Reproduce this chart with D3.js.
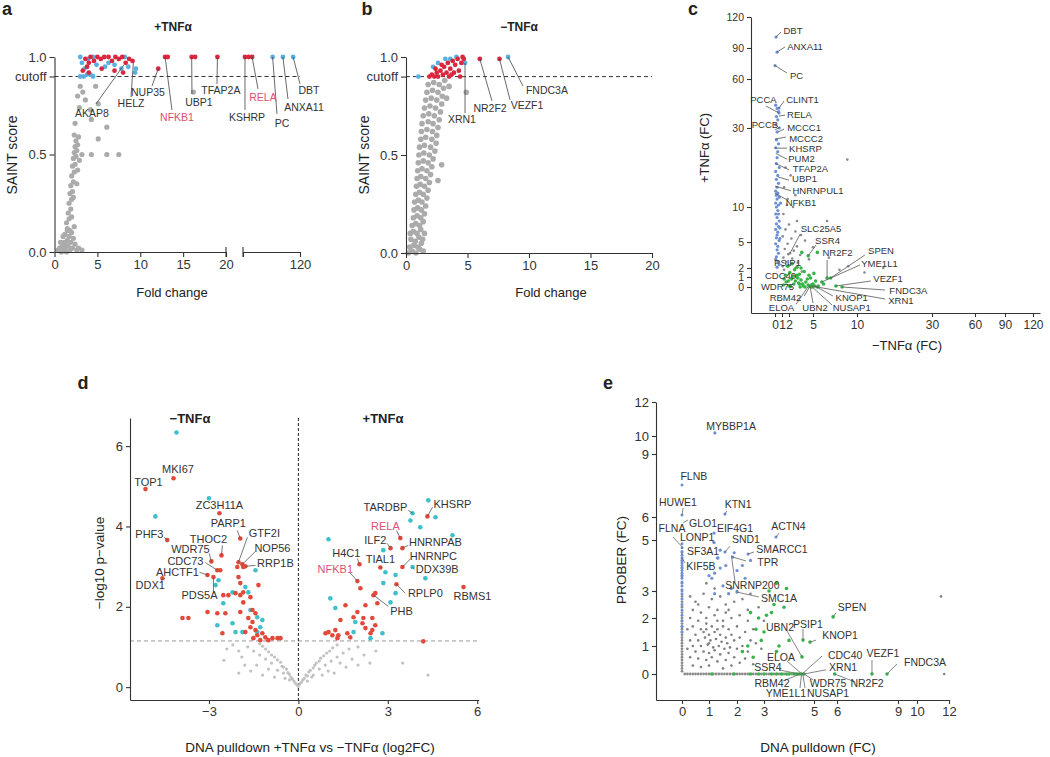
<!DOCTYPE html>
<html>
<head>
<meta charset="utf-8">
<script src="https://cdn.jsdelivr.net/npm/d3@7"></script>
<style>
body { margin: 0; background: #fff; }
svg { font-family: "Liberation Sans", Arial, Helvetica, sans-serif; }
</style>
</head>
<body>
<svg id="fig" width="1050" height="757"></svg>
<script>
// ---------- panel a : +TNFa SAINT score vs fold change ----------
let aGray = [[0.4,0.01],[0.6,0.02],[0.8,0.0],[0.9,0.03],[1.0,0.01],[1.1,0.05],[1.2,0.02],[1.3,0.04],[1.4,0.0],
  [1.5,0.06],[1.6,0.03],[1.7,0.08],[1.8,0.01],[1.9,0.05],[2.0,0.1],[2.1,0.02],[2.2,0.07],[2.4,0.04],[2.6,0.01],
  [0.7,0.05],[1.2,0.09],[1.5,0.12],[1.0,0.08],[1.8,0.11],[2.3,0.13],[2.8,0.02],[3.2,0.01],
  [1.4,0.15],[1.7,0.17],[1.6,0.2],[1.9,0.22],[1.7,0.25],[2.0,0.27],[1.8,0.3],[2.1,0.31],[1.9,0.34],[2.2,0.36],
  [2.0,0.39],[2.3,0.41],[2.1,0.44],[2.4,0.45],[2.2,0.48],[2.5,0.49],[2.3,0.51],[2.6,0.52],[2.4,0.54],[2.7,0.55],
  [2.5,0.57],[2.8,0.59],[2.2,0.28],[2.6,0.35],[2.0,0.18],[1.5,0.11],[2.7,0.42],[2.9,0.47],[2.3,0.6],
  [3.2,0.5],[4.3,0.5],[6.1,0.5],[7.5,0.5],[5.1,0.58],[6.1,0.64],[4.3,0.68],[4.2,0.73],[5.1,0.76],[3.3,0.82],
  [2.7,0.8],[3.0,0.85],[2.9,0.74],[3.6,0.78],[2.4,0.66],[4.8,0.85],[16.2,0.82]];
let aRed = [[3.3,0.93],[3.6,0.99],[4.0,0.97],[4.2,1.0],[4.6,0.98],[5.0,1.0],[5.4,0.99],[5.8,1.0],[6.3,1.0],
  [6.7,0.98],[7.1,1.0],[7.5,0.99],[7.9,1.0],[8.3,0.97],[8.7,0.99],[9.1,0.98],[4.0,0.92],[7.0,0.93],[8.0,0.92],
  [12.1,0.94],[12.9,1.0],[13.2,1.0],[16.0,1.0],[16.4,1.0],[19.0,1.0],[3.8,0.95],[5.5,0.94],
  [23.5,1.0],[30,1.0],[36,1.0]];
let aBlue = [[3.0,1.0],[3.2,0.97],[3.5,0.94],[3.8,0.91],[4.2,0.91],[4.5,0.9],[3.0,0.9],[3.4,0.9],[4.9,0.96],
  [5.9,0.95],[6.3,0.97],[7.0,0.96],[7.8,0.94],[8.6,0.95],[9.5,0.94],[8.2,1.0],[4.5,1.0],[3.9,0.99],[9.4,0.92],
  [72,1.0],[90,1.0],[108,1.0]];
// name, point x, point y, leader end x, leader end y, text x, text y
let aLabels = [
  ['AKAP8', 8.1, 0.96, 4.84, 0.759, 4.37, 0.692],
  ['HELZ', 9.2, 0.97, 8.92, 0.795, 8.92, 0.744],
  ['NUP35', 12.1, 0.94, 11.37, 0.851, 10.9, 0.8],
  ['NFKB1', 12.9, 1.0, 13.7, 0.728, 14.29, 0.672],
  ['UBP1', 16.0, 1.0, 16.03, 0.81, 16.85, 0.749],
  ['TFAP2A', 19.0, 1.0, 18.95, 0.862, 19.4, 0.81],
  ['KSHRP', 23.5, 1.0, 23.5, 0.728, 27, 0.672],
  ['RELA', 36, 1.0, 46.3, 0.836, 55.1, 0.774],
  ['PC', 72, 1.0, 79.6, 0.708, 88.4, 0.641],
  ['ANXA11', 90, 1.0, 98.9, 0.785, 127, 0.723],
  ['DBT', 108, 1.0, 120, 0.862, 135.8, 0.81]
];
let aTicksLeft = [0, 5, 10, 15, 20];
let aTicksRight = [20, 120];
let saintTicks = [0, 0.5, 0.9, 1.0];
let cutoff = 0.9;

// ---------- panel b : -TNFa ----------
let bGray = [[0.2,0.0],[0.5,0.01],[0.8,0.0],[1.1,0.02],[1.4,0.01],[0.3,0.03],[0.65,0.04],[0.95,0.03],[1.25,0.05],
  [0.4,0.07],[0.75,0.06],[1.05,0.08],[1.35,0.07],[0.35,0.1],[0.6,0.11],[0.9,0.1],[1.2,0.12],[1.5,0.1],
  [0.5,0.14],[0.8,0.15],[1.1,0.14],[1.4,0.16],[0.6,0.18],[0.9,0.19],[1.2,0.18],[1.5,0.2],
  [0.65,0.22],[0.95,0.23],[1.25,0.22],[1.6,0.24],[0.7,0.26],[1.0,0.27],[1.3,0.26],[1.7,0.28],
  [0.8,0.3],[1.1,0.31],[1.4,0.3],[1.8,0.32],[0.85,0.34],[1.15,0.35],[1.5,0.34],[1.9,0.36],
  [0.9,0.38],[1.2,0.39],[1.6,0.38],[2.0,0.4],[2.6,0.37],[0.95,0.42],[1.3,0.43],[1.7,0.42],[2.1,0.44],
  [1.0,0.46],[1.4,0.47],[1.8,0.46],[2.2,0.48],[1.05,0.5],[1.45,0.51],[1.9,0.5],[2.35,0.52],
  [1.1,0.54],[1.5,0.55],[2.0,0.54],[2.45,0.56],[1.2,0.58],[1.6,0.59],[2.1,0.58],[2.5,0.6],
  [1.25,0.62],[1.7,0.63],[2.15,0.62],[2.6,0.64],[1.3,0.66],[1.8,0.67],[2.2,0.66],[2.7,0.68],
  [1.4,0.7],[1.85,0.71],[2.3,0.7],[2.8,0.72],[1.5,0.74],[1.95,0.75],[2.4,0.74],[2.9,0.76],
  [1.6,0.78],[2.05,0.79],[2.5,0.78],[2.95,0.8],[1.7,0.82],[2.15,0.83],[2.6,0.82],[3.05,0.84],
  [1.8,0.86],[2.25,0.87],[2.7,0.86],[3.15,0.88],[3.5,0.85],[3.3,0.79],[2.9,0.45],[4.9,0.82]];
let bRed = [[1.9,0.9],[2.1,0.91],[2.3,0.9],[2.5,0.92],[2.6,0.9],[2.8,0.93],[3.0,0.91],[3.1,0.95],[3.3,0.92],
  [3.4,0.97],[3.5,0.9],[3.6,0.94],[3.8,0.98],[3.9,0.92],[4.0,0.96],[4.2,0.99],[4.3,0.93],[4.5,0.97],[4.7,0.99],
  [2.9,0.96],[3.7,0.91],[2.4,0.94],[4.6,1.0],[6.0,0.99],[7.6,0.99],[4.4,0.9]];
let bBlue = [[1.0,0.9],[2.6,0.97],[3.2,0.99],[4.8,0.97],[8.3,1.0],[3.6,0.99],[2.2,0.95],[4.1,1.0]];
let bLabels = [
  ['XRN1', 4.8, 0.97, 4.8, 0.714, 4.55, 0.663],
  ['NR2F2', 6.0, 0.99, 6.99, 0.776, 6.83, 0.719],
  ['VEZF1', 7.6, 0.99, 8.46, 0.781, 9.84, 0.735],
  ['FNDC3A', 8.3, 1.0, 9.51, 0.852, 11.46, 0.811]
];
let bTicks = [0, 5, 10, 15, 20];

// ---------- panel c : +TNFa FC vs -TNFa FC ----------
let fcTicks = [0, 1, 2, 5, 10, 30, 60, 90, 120];
let cBlue = [[0.15,100.6],[0.3,86],[0,73],[0.1,44],[0.3,42],[0.5,40],[0.2,37],[0.4,35],[0.1,32],[0.6,30],[0.3,29],
  [0.2,27],[0.5,26],[0.1,25],[0.4,24],[0.3,22.5],[0.2,21],[0.6,20],[0.1,19],[0.4,18],[0.2,17],[0.5,16],[0.3,15],
  [0.1,14],[0.4,13.5],[0.2,13],[0.6,12.5],[0.3,12],[0.1,11],[0.5,10.5],[0.2,10],[0.4,9.5],[0.1,9],[0.3,8.5],
  [0.6,8],[0.2,7.6],[0.5,7.2],[0.1,6.8],[0.4,6.4],[0.3,6],[0.2,5.6],[0.6,5.2],[0.1,4.8],[0.4,4.5],[0.3,4.1],
  [0.5,3.7],[0.2,3.3],[0.1,3],[0.4,2.7],[0.6,2.4],[0.3,2.1],[0.5,9],[0.7,7],[0.8,11],[0.7,5.5],[0.57,39.2],[0.57,42.2]];
let cGray = [[1.5,20],[2.2,18],[8.9,22],[1.3,15],[1.8,12],[2.5,10],[1.2,9],[3,8],[2,7.5],[1.5,6.8],[2.8,6.5],
  [3.5,6],[1.1,5.8],[2.3,5.5],[4,5.2],[1.8,4.8],[3,4.5],[1.4,4.2],[2.6,4],[5,4.4],[1.9,3.6],[3.4,3.5],[1.2,3.2],
  [2.4,3.1],[4.5,3],[1.6,2.7],[3.1,2.6],[2,2.3],[1.1,2.2],[2.8,2.0],[6.8,3.2],[9,2.2],[8,1.8],[12,1.5],[1.3,1.8],
  [3.6,1.6],[17,2],[6.6,8],[1.7,10.5],[2.8,13],[2.13,3.7]];
let cGreen = [[1.2,0.2],[1.6,0.5],[2,0.1],[2.3,0.8],[2.6,0.3],[2.9,1.1],[3.2,0.4],[3.5,0.7],[3.8,0.1],[4.1,0.5],
  [4.4,0.2],[4.7,0.9],[5,0.3],[5.3,0.6],[5.6,0.1],[1.5,1.2],[2.1,1.5],[2.7,1.8],[3.3,1.3],[3.9,1.6],[4.5,1.2],
  [1.8,2.2],[2.4,2.5],[3.0,2.1],[3.6,3.8],[5.5,3.8],[2.2,0.05],[3.4,0.0],[4.0,0.0],[4.8,0.02],[5.5,0.0],[6.6,0.9],
  [7.0,0.9],[6.0,0.5],[7.6,0.1],[8.3,0.0],[4.8,0.2],[6.2,0.3],[1.3,0.8],[1.9,0.6],[2.5,1.1],[3.1,0.9],[3.7,0.3],
  [4.3,0.8],[5.1,1.4],[2.8,0.6],[4.4,3.4],[3.3,0.3],[3.0,1.2],[3.5,2.0],[4.6,0.05],[4.9,0.0],[5.2,0.1]];
let cLabels = [
  ['DBT', 0.14, 100.6, 0.86, 105.5, 2.5, 103.5],
  ['ANXA11', 0.29, 86.1, 1.43, 91, 4.0, 88.1],
  ['PC', 0, 73, 1.71, 65.8, 2.94, 60],
  ['PCCA', 0.57, 39.2, -1.3, 43.5, -1.64, 45.3],
  ['CLINT1', 0.57, 42.2, 1.29, 46.5, 3.69, 45.3],
  ['RELA', 0.57, 37.3, 1.43, 37.9, 3.31, 36.1],
  ['PCCB', 0, 29.5, 0.71, 30.6, -1.43, 30],
  ['MCCC1', 0.43, 29, 1.29, 29.7, 3.88, 29.2],
  ['MCCC2', 0, 27.2, 1.57, 27.7, 4.13, 26.5],
  ['KHSRP', 0, 24.9, 1.71, 24.9, 4.06, 23.9],
  ['PUM2', 0.1, 23.6, 1.71, 22.1, 3.56, 21.4],
  ['TFAP2A', 0, 21.1, 2.0, 19.4, 4.69, 18.9],
  ['UBP1', 0.43, 17.6, 2.0, 16.8, 3.94, 16.3],
  ['HNRNPUL1', 0, 15.3, 2.25, 14.1, 5.57, 13.3],
  ['NFKB1', 0, 13.5, 1.71, 11.8, 3.5, 10.25],
  ['SLC25A5', 2.13, 3.7, 3.38, 6.1, 5.91, 6.4],
  ['SSR4', 4.4, 3.4, 5.34, 4.65, 6.65, 4.77],
  ['NR2F2', 6.6, 0.9, 6.6, 2.92, 7.78, 3.38],
  ['SPEN', 7.0, 0.9, 12.1, 3.5, 16.4, 3.6],
  ['YME1L1', 6.0, 0.5, 10.8, 2.35, 16.0, 2.1],
  ['VEZF1', 7.6, 0.1, 13.7, 0.6, 18.3, 0.5],
  ['FNDC3A', 8.3, 0, 17.5, -0.3, 23.7, -0.7],
  ['XRN1', 4.8, 0.1, 17.5, -1.2, 21.7, -1.7],
  ['KNOP1', 5.2, 0.1, 7.27, -0.9, 9.4, -1.4],
  ['NUSAP1', 4.9, 0, 7.16, -1.8, 9.4, -2.4],
  ['UBN2', 4.6, 0.2, 5.0, -1.6, 5.23, -2.4],
  ['ELOA', 4.4, 0.05, 2.9, -1.7, 0.93, -2.4],
  ['RBM42', 4.6, 0.05, 3.9, -0.9, 1.5, -1.4],
  ['WDR75', 3.3, 0.3, 3.3, 0.3, 0.36, -0.3],
  ['CDC40', 3.0, 1.2, 3.0, 1.2, 0.79, 0.85],
  ['PSIP1', 3.5, 2.0, 3.5, 2.0, 1.79, 2.2]
];

// ---------- panel d : volcano ----------
let dTicksX = [-3, 0, 3, 6];
let dTicksY = [0, 2, 4, 6];
let pCut = 1.15;
let dGray = [[0,0.02],[0.05,0.08],[-0.05,0.06],[0.1,0.12],[-0.1,0.1],[0.15,0.18],[-0.15,0.15],[0.2,0.22],[-0.2,0.2],
  [0.25,0.3],[-0.25,0.25],[0.3,0.28],[-0.3,0.32],[0.35,0.38],[-0.35,0.36],[0.4,0.42],[-0.4,0.45],[0.5,0.48],
  [-0.5,0.5],[0.55,0.55],[-0.55,0.52],[0.6,0.6],[-0.6,0.62],[0.7,0.65],[-0.7,0.68],[0.75,0.72],[-0.8,0.75],
  [0.85,0.78],[-0.9,0.8],[0.95,0.85],[-1.0,0.88],[1.05,0.9],[-1.1,0.95],[1.15,0.98],[-1.2,1.02],[1.3,1.05],
  [-1.3,1.08],[0.5,0.3],[-0.5,0.35],[0.7,0.45],[-0.7,0.42],[0.9,0.55],[-0.9,0.6],[1.1,0.65],[-1.1,0.7],[1.3,0.75],
  [-1.3,0.8],[1.5,0.85],[-1.5,0.9],[1.7,0.95],[-1.7,1.0],[0.3,0.15],[-0.3,0.18],[0.45,0.25],[-0.45,0.22],[1.0,0.4],
  [-1.0,0.45],[1.4,0.6],[-1.4,0.55],[1.8,0.7],[-1.9,0.75],[2.2,0.8],[-2.0,0.9],[1.6,0.5],[-1.6,0.4],[2.0,1.0],
  [-2.2,1.05],[-2.5,0.67],[-2.0,0.35],[4.35,0.3],[2.6,0.9],[1.2,0.35],[-1.2,0.3],[0.8,0.3],[-0.8,0.25],[2.4,0.6],
  [-2.4,0.95],[3.5,0.6],[2.0,0.55],[-1.8,0.55]];
let dRed = [[-4.19,5.2],[-5.13,4.93],[-2.65,4.33],[-1.95,3.7],[-4.4,3.66],[-2.58,3.28],[-2.01,3.11],[-2.92,3.13],
  [-1.88,3.06],[-2.72,2.91],[-1.78,3.01],[-3.05,2.79],[-4.56,2.71],[-2.85,2.74],
  [-2.62,2.91],[-2.05,2.99],[-1.85,2.99],[-2.01,2.74],[-1.95,2.59],[-1.34,2.54],[-2.52,2.29],[-2.35,2.29],
  [-2.11,2.34],[-1.95,2.29],[-1.85,2.36],[-1.61,2.24],[-1.85,2.11],[-3.05,1.87],[-3.89,1.72],[-3.69,1.72],
  [-2.72,1.84],[-2.45,1.84],[-1.95,1.87],[-1.54,1.92],[-1.44,1.84],[-1.68,1.72],[-1.54,1.62],[-1.61,1.49],
  [-1.78,1.37],[-2.55,1.34],[-1.44,1.42],[-1.38,1.29],[-1.21,1.34],[-1.11,1.24],[-0.87,1.22],[-0.7,1.22],
  [-1.01,1.17],[-0.6,1.22],[-1.51,1.22],[-1.28,1.17],
  [4.33,4.25],[3.42,3.71],[3.09,3.46],[3.49,3.46],[2.05,3.06],[2.75,2.98],[3.49,2.99],[1.98,2.64],[3.29,2.56],
  [5.54,2.49],[2.52,2.29],[2.08,2.46],[2.58,2.34],[2.65,2.09],[2.25,2.04],[1.58,2.04],[1.98,1.87],[1.85,1.74],
  [1.41,1.67],[2.18,1.72],[2.48,1.72],[2.15,1.59],[2.25,1.47],[2.48,1.42],[2.58,1.54],[1.01,1.37],[1.24,1.42],
  [1.34,1.29],[1.14,1.29],[1.31,1.22],[1.64,1.34],[1.74,1.24],[0.91,1.34],[2.42,1.34],[4.19,1.14]];
let dCyan = [[-4.09,6.34],[-4.8,4.25],[-3.0,4.7],[-2.78,2.54],[-2.68,2.66],[-2.21,2.36],[-1.78,2.49],[-1.68,2.36],
  [-2.52,2.09],[-1.61,1.92],[-1.38,1.74],[-2.21,1.59],[-2.11,1.37],[-2.72,1.54],[-1.21,1.67],[-1.28,1.49],
  [-1.44,2.91],[-1.88,1.37],[-1.38,1.37],
  [1.01,3.68],[3.76,4.15],[4.09,3.98],[4.6,4.23],[4.36,4.65],[2.85,3.41],[2.92,2.86],[3.26,2.79],[4.26,2.71],
  [2.85,2.59],[3.26,2.34],[3.09,2.11],[1.07,2.21],[1.24,1.97],[1.91,1.62],[2.82,1.34],[1.85,1.37],[2.42,1.22],
  [5.17,3.78],[3.83,4.33],[3.83,2.99]];
let dLabels = [
  ['MKI67', -4.19, 5.2, -4.19, 5.2, -4.04, 5.32],
  ['TOP1', -5.13, 4.93, -5.13, 4.93, -5.03, 5.0],
  ['ZC3H11A', -2.65, 4.33, -2.65, 4.33, -2.65, 4.43],
  ['PARP1', -1.95, 3.7, -2.05, 3.9, -2.35, 3.98],
  ['PHF3', -4.4, 3.66, -4.5, 3.73, -5.0, 3.71],
  ['THOC2', -2.58, 3.28, -2.55, 3.53, -3.02, 3.58],
  ['GTF2I', -2.01, 3.11, -1.71, 3.73, -1.14, 3.73],
  ['WDR75', -2.92, 3.13, -2.99, 3.33, -3.62, 3.33],
  ['NOP56', -1.88, 3.06, -1.44, 3.38, -0.87, 3.36],
  ['CDC73', -2.72, 2.91, -3.12, 3.1, -3.79, 3.05],
  ['RRP1B', -1.78, 3.01, -1.44, 3.03, -0.77, 2.99],
  ['AHCTF1', -3.05, 2.79, -3.32, 2.86, -4.06, 2.77],
  ['DDX1', -4.56, 2.71, -4.6, 2.6, -4.97, 2.44],
  ['PDS5A', -2.85, 2.74, -2.85, 2.36, -3.32, 2.19],
  ['TARDBP', 3.83, 4.33, 3.69, 4.4, 2.92, 4.38],
  ['KHSRP', 4.33, 4.25, 4.5, 4.48, 5.17, 4.45],
  ['RELA', 3.42, 3.71, 3.29, 3.9, 2.92, 3.91],
  ['ILF2', 3.09, 3.46, 2.98, 3.58, 2.58, 3.56],
  ['HNRNPAB', 3.49, 3.46, 3.69, 3.53, 4.6, 3.51],
  ['H4C1', 2.05, 3.06, 1.98, 3.2, 1.61, 3.23],
  ['TIAL1', 2.75, 2.98, 2.72, 3.02, 2.75, 3.08],
  ['HNRNPC', 3.49, 2.99, 3.76, 3.19, 4.53, 3.17],
  ['DDX39B', 3.83, 2.99, 3.89, 2.93, 4.66, 2.85],
  ['NFKB1', 1.98, 2.64, 1.74, 2.84, 1.24, 2.84],
  ['RPLP0', 3.29, 2.56, 3.59, 2.34, 4.26, 2.24],
  ['RBMS1', 5.54, 2.49, 5.54, 2.49, 5.84, 2.16],
  ['PHB', 2.52, 2.29, 3.02, 2.01, 3.46, 1.79]
];

// ---------- panel e : PROBER FC vs DNA pulldown FC ----------
let eTicks = [0, 1, 2, 3, 5, 6, 9, 10, 12];
let eZeroRow = [0.1,0.2,0.3,0.4,0.5,0.6,0.7,0.8,0.9,1.0,1.15,1.25,1.35,1.45,1.55,1.65,1.75,1.85,2.0,2.1,2.2,2.3,
  2.4,2.6,2.7,2.9,3.1,3.2,3.4,3.6,3.8,4.1];
let eZeroCol = [0.1,0.2,0.3,0.4,0.5,0.6,0.7,0.8,0.9,1.0,1.1,1.2,1.3,1.4,1.5,1.6,1.7,1.8,1.9,2.0,2.2,2.4,2.6,2.8,
  3.0,3.3,3.6,3.9,4.2,4.5];
let eBlueCol = [1.5,1.7,1.9,2.1,2.3,2.5,2.7,2.9,3.05,3.2,3.35,3.5,3.6,3.7,3.8,3.9,4.0,4.1,4.2,4.3,4.4,4.55,4.7,4.85,
  6.1,7.52];
let eBlue = [[1.0,3.6],[1.2,3.7],[1.4,3.9],[1.6,4.0],[1.3,4.3],[2.0,3.8],[2.2,4.0],[1.1,3.5],[1.5,3.2],[1.8,3.1],
  [2.5,4.2],[1.9,4.5],[1.4,4.6],[2.3,3.5],[1.7,2.9],[1.2,2.9],[1.57,4.53],[1.32,4.29],[2.41,4.45],[1.85,4.33],
  [1.18,4.9],[1.18,5.3],[1.57,6.14],[1.21,10.18],[3.48,5.13],[2.0,2.96]];
let eGray = [[0.3,2.8],[0.5,2.6],[0.8,2.9],[1.1,2.7],[1.4,2.8],[0.4,2.3],[0.7,2.2],[1.0,2.4],[1.3,2.3],[1.6,2.5],
  [1.9,2.6],[2.2,2.7],[0.3,2.0],[0.6,1.9],[0.9,2.0],[1.2,2.1],[1.5,1.9],[1.8,2.0],[2.1,2.1],[2.4,1.9],
  [0.4,1.7],[0.7,1.6],[0.9,1.8],[1.1,1.7],[1.3,1.6],[1.5,1.7],[1.7,1.6],[2.0,1.7],[2.3,1.5],[2.6,1.6],
  [0.5,1.4],[0.8,1.5],[1.0,1.4],[1.2,1.5],[1.4,1.4],[1.6,1.3],[1.8,1.4],[2.1,1.3],[2.5,1.2],
  [0.3,1.2],[0.6,1.2],[0.85,1.3],[1.05,1.2],[1.25,1.25],[1.45,1.15],[1.65,1.1],[1.9,1.2],[2.2,1.0],[2.7,1.1],
  [0.4,1.0],[0.7,1.0],[0.95,1.05],[1.15,0.95],[1.35,1.0],[1.55,0.9],[1.75,0.95],[2.0,0.9],[2.4,0.8],
  [0.5,0.8],[0.8,0.8],[1.0,0.75],[1.2,0.85],[1.4,0.7],[1.7,0.75],[1.9,0.6],[2.3,0.55],
  [0.3,0.6],[0.6,0.55],[0.9,0.5],[1.1,0.6],[1.3,0.45],[1.6,0.5],[2.1,0.4],
  [0.4,0.3],[0.7,0.25],[1.0,0.3],[1.5,0.2],[1.8,0.3],[2.6,0.35],
  [1.2,3.1],[2.0,3.0],[2.5,2.9],[0.9,3.3],[2.8,2.4],[3.0,1.9],[2.9,0.9],[0.2,0.9],[0.2,1.6],[1.7,2.3],[1.0,1.1],
  [1.3,1.9],[0.9,1.6],[1.6,2.2],[2.4,2.3],[0.6,2.5],[11.5,2.8],[11.7,0]];
let eGreen = [[1.1,0],[1.9,0],[2.5,0],[2.8,0],[3.0,0],[3.3,0],[3.5,0],[3.7,0],[3.9,0],[4.0,0],[4.2,0],[4.3,0],
  [4.4,0],[4.5,0],[4.6,0],[2.8,2.0],[3.1,2.1],[3.3,2.2],[2.7,1.6],[3.0,1.5],[3.6,1.0],[2.9,1.2],[3.2,3.0],
  [3.5,3.3],[3.9,3.1],[3.4,2.5],[3.8,2.4],[4.0,1.2],[3.5,0.8],[2.6,0.6],[2.4,1.0],[4.52,0.61],[4.56,1.21],
  [4.84,1.14],[5.83,2.04],[7.72,0],[8.46,0],[5.9,0],[2.2,0.8],[2.5,2.2]];
let eLabels = [
  ['MYBBP1A', 1.21, 10.18, 1.21, 10.18, 1.79, 10.35],
  ['FLNB', 0, 7.52, 0, 7.52, 0.44, 7.76],
  ['HUWE1', 0, 6.1, 0.04, 6.43, -0.15, 6.52],
  ['KTN1', 1.57, 6.14, 1.64, 6.29, 2.04, 6.43],
  ['GLO1', 0.05, 5.75, 0.22, 5.87, 0.78, 5.57],
  ['EIF4G1', 1.18, 5.3, 1.18, 5.3, 1.93, 5.35],
  ['ACTN4', 3.48, 5.13, 3.6, 5.3, 3.98, 5.43],
  ['FLNA', 0.04, 4.69, -0.33, 5.13, -0.37, 5.35],
  ['LONP1', 1.18, 4.9, 1.11, 4.96, 0.56, 4.96],
  ['SND1', 1.57, 4.53, 1.75, 4.76, 2.33, 4.88],
  ['SF3A1', 1.32, 4.29, 1.32, 4.29, 0.78, 4.41],
  ['SMARCC1', 2.41, 4.45, 2.63, 4.53, 3.72, 4.49],
  ['KIF5B', 0, 4.29, 0.11, 4.1, 0.7, 3.82],
  ['TPR', 1.85, 4.33, 2.33, 4.18, 3.15, 3.98],
  ['SNRNP200', 1.8, 4.4, 1.93, 3.35, 2.57, 3.08],
  ['SMC1A', 2.0, 2.96, 2.81, 2.78, 3.6, 2.59],
  ['SPEN', 5.83, 2.04, 5.96, 2.19, 6.74, 2.26],
  ['UBN2', 4.52, 0.61, 3.92, 1.54, 3.64, 1.54],
  ['PSIP1', 4.56, 1.21, 4.56, 1.61, 4.76, 1.64],
  ['KNOP1', 4.84, 1.14, 5.09, 1.21, 6.15, 1.25],
  ['ELOA', 4.52, 0, 3.92, 0.46, 3.68, 0.46],
  ['CDC40', 4.52, 0, 5.35, 0.64, 6.4, 0.54],
  ['VEZF1', 7.72, 0, 7.72, 0.5, 8.26, 0.61],
  ['FNDC3A', 8.46, 0, 8.95, 0.36, 10.5, 0.29],
  ['XRN1', 4.6, 0, 5.52, 0.15, 6.3, 0.11],
  ['SSR4', 4.4, 0, 3.6, 0.15, 3.16, 0.11],
  ['RBM42', 4.45, 0, 3.76, -0.25, 3.32, -0.46],
  ['WDR75', 4.6, 0, 4.96, -0.21, 5.61, -0.46],
  ['NR2F2', 5.9, 0, 6.9, -0.29, 7.48, -0.46],
  ['YME1L1', 4.5, 0, 4.44, -0.5, 3.88, -0.82],
  ['NUSAP1', 4.55, 0, 4.64, -0.5, 5.61, -0.82]
];

let highlighted = ['NFKB1', 'RELA'];

// ---------- drawing ----------
const FONT = '"Liberation Sans", Arial, Helvetica, sans-serif';
const RED = '#d8283f', BLUE = '#5aaee0', GRAY = '#ababab';
const DRED = '#e2493a', DCYAN = '#3dbfcc';
const CBLUE = '#6d8fd3', CGREEN = '#37b449', CGRAY = '#8a8a8a';
const LABEL_RED = '#e0506e';

let svg = d3.select('#fig');

function styleAxis(g, size) {
  g.attr('color', '#333').attr('font-size', size).attr('font-family', FONT);
  g.select('.domain').attr('stroke-width', 1.1);
  g.selectAll('.tick line').attr('stroke-width', 1.1);
  return g;
}

function dots(g, data, x, y, r, color) {
  g.append('g').selectAll('circle')
    .data(data).join('circle')
    .attr('cx', d => x(d[0]))
    .attr('cy', d => y(d[1]))
    .attr('r', r)
    .attr('fill', color);
}

function labels(g, rows, x, y, size, lineColor, useRed) {
  let lg = g.append('g');
  lg.selectAll('line').data(rows).join('line')
    .attr('x1', d => x(d[1])).attr('y1', d => y(d[2]))
    .attr('x2', d => x(d[3])).attr('y2', d => y(d[4]))
    .attr('stroke', lineColor).attr('stroke-width', 0.8);
  lg.selectAll('text').data(rows).join('text')
    .attr('x', d => x(d[5])).attr('y', d => y(d[6]))
    .attr('text-anchor', 'middle')
    .style('font-size', size + 'px')
    .attr('fill', d => (useRed && highlighted.includes(d[0])) ? LABEL_RED : '#333')
    .text(d => d[0]);
}

function text(t, x, y, size, bold, rot) {
  let el = svg.append('text')
    .attr('text-anchor', 'middle')
    .style('font-size', size + 'px')
    .style('font-weight', bold ? 'bold' : 'normal')
    .attr('fill', '#222')
    .text(t);
  if (rot) el.attr('transform', 'translate(' + x + ',' + y + ') rotate(-90)');
  else el.attr('x', x).attr('y', y);
  return el;
}

// ----- panel a -----
(function() {
  let xl = d3.scaleLinear().domain([0, 20]).range([54.5, 226]);
  let xr = d3.scaleLinear().domain([20, 120]).range([243, 300]);
  let xa = v => v <= 20 ? xl(v) : xr(v);
  let y = d3.scaleLinear().domain([0, 1]).range([252, 57]);
  let g = svg.append('g');

  g.append('line').attr('x1', xl(0)).attr('x2', xr(120)).attr('y1', y(cutoff)).attr('y2', y(cutoff))
    .attr('stroke', '#333').attr('stroke-dasharray', '4,3').attr('stroke-width', 1);

  dots(g, aGray, xa, y, 2.6, GRAY);
  dots(g, aBlue, xa, y, 2.4, BLUE);
  dots(g, aRed, xa, y, 2.4, RED);
  labels(g, aLabels, xa, y, 10.5, '#444', true);

  styleAxis(g.append('g').attr('transform', 'translate(0,252)')
    .call(d3.axisBottom(xl).tickValues(aTicksLeft).tickSize(5).tickSizeOuter(0)), 13);
  styleAxis(g.append('g').attr('transform', 'translate(0,252)')
    .call(d3.axisBottom(xr).tickValues(aTicksRight).tickSize(5).tickSizeOuter(0)
      .tickFormat(d => d === 120 ? '120' : '')), 13);
  [xl(20), xr(20)].forEach(function(px) {
    g.append('line').attr('x1', px).attr('x2', px).attr('y1', 247).attr('y2', 257)
      .attr('stroke', '#333').attr('stroke-width', 1.1);
  });
  styleAxis(g.append('g').attr('transform', 'translate(54.5,0)')
    .call(d3.axisLeft(y).tickValues(saintTicks).tickSize(5).tickSizeOuter(0)
      .tickFormat(d => d === cutoff ? 'cutoff' : d3.format('.1f')(d))), 13);

  text('a', 7, 15, 18, true);
  text('+TNFα', 173, 31, 12, true);
  text('SAINT score', 17, 155, 14, false, true);
  text('Fold change', 172, 297, 13);
})();

// ----- panel b -----
(function() {
  let x = d3.scaleLinear().domain([0, 20]).range([406, 652]);
  let y = d3.scaleLinear().domain([0, 1]).range([253, 57]);
  let g = svg.append('g');

  g.append('line').attr('x1', x(0)).attr('x2', x(20)).attr('y1', y(cutoff)).attr('y2', y(cutoff))
    .attr('stroke', '#333').attr('stroke-dasharray', '4,3').attr('stroke-width', 1);

  dots(g, bGray, x, y, 2.8, GRAY);
  dots(g, bBlue, x, y, 2.4, BLUE);
  dots(g, bRed, x, y, 2.4, RED);
  labels(g, bLabels, x, y, 10.5, '#444', true);

  styleAxis(g.append('g').attr('transform', 'translate(0,253)')
    .call(d3.axisBottom(x).tickValues(bTicks).tickSize(5).tickSizeOuter(0)), 13);
  styleAxis(g.append('g').attr('transform', 'translate(406,0)')
    .call(d3.axisLeft(y).tickValues(saintTicks).tickSize(5).tickSizeOuter(0)
      .tickFormat(d => d === cutoff ? 'cutoff' : d3.format('.1f')(d))), 13);

  text('b', 367, 15, 18, true);
  text('−TNFα', 519, 31, 12, true);
  text('SAINT score', 369, 155, 14, false, true);
  text('Fold change', 551, 297, 13);
})();

// ----- panel c -----
(function() {
  let x = d3.scaleLinear().domain([-3.4, 0, 1, 2, 5, 10, 30, 60, 90, 120, 125])
    .range([751, 775, 782, 789, 813, 857, 932, 975, 1005, 1033, 1040]);
  let y = d3.scaleLinear().domain([-2.6, 0, 1, 2, 5, 10, 30, 60, 90, 120])
    .range([313, 287, 277, 268, 242, 207, 128, 79, 48, 17]);
  let g = svg.append('g');

  dots(g, cGray, x, y, 1.3, CGRAY);
  dots(g, cBlue, x, y, 1.6, CBLUE);
  dots(g, cGreen, x, y, 1.8, CGREEN);
  labels(g, cLabels, x, y, 9.5, '#555', false);

  styleAxis(g.append('g').attr('transform', 'translate(0,313)')
    .call(d3.axisBottom(x).tickValues(fcTicks).tickSize(4).tickSizeOuter(0)), 12);
  styleAxis(g.append('g').attr('transform', 'translate(751,0)')
    .call(d3.axisLeft(y).tickValues(fcTicks).tickSize(4).tickSizeOuter(0)), 10.5);

  text('c', 693, 15, 18, true);
  text('+TNFα (FC)', 709, 148, 13, false, true);
  text('−TNFα (FC)', 907, 350, 13);
})();

// ----- panel d -----
(function() {
  let x = d3.scaleLinear().domain([-5.65, 6.05]).range([130, 478.7]);
  let y = d3.scaleLinear().domain([-0.32, 6.7]).range([700, 418]);
  let g = svg.append('g');

  g.append('line').attr('x1', x(-5.65)).attr('x2', x(6.05)).attr('y1', y(pCut)).attr('y2', y(pCut))
    .attr('stroke', '#999').attr('stroke-dasharray', '4,3').attr('stroke-width', 1);
  g.append('line').attr('x1', x(0)).attr('x2', x(0)).attr('y1', y(6.7)).attr('y2', y(-0.32))
    .attr('stroke', '#222').attr('stroke-dasharray', '3,2').attr('stroke-width', 1);

  dots(g, dGray, x, y, 1.6, '#c2c2c2');
  dots(g, dCyan, x, y, 2.3, DCYAN);
  dots(g, dRed, x, y, 2.3, DRED);
  labels(g, dLabels, x, y, 11, '#555', true);

  styleAxis(g.append('g').attr('transform', 'translate(0,700)')
    .call(d3.axisBottom(x).tickValues(dTicksX).tickSize(4).tickSizeOuter(0)), 13);
  styleAxis(g.append('g').attr('transform', 'translate(130,0)')
    .call(d3.axisLeft(y).tickValues(dTicksY).tickSize(4).tickSizeOuter(0).tickFormat(d3.format('d'))), 13);

  text('d', 83, 389, 18, true);
  text('−TNFα', 190, 423, 13, true);
  text('+TNFα', 383, 423, 13, true);
  text('−log10 p−value', 104, 563, 13.5, false, true);
  text('DNA pulldown +TNFα vs −TNFα (log2FC)', 310, 752, 13.5);
})();

// ----- panel e -----
(function() {
  let x = d3.scaleLinear().domain([-0.96, 0, 1, 2, 3, 5, 6, 9, 10, 12])
    .range([656, 682, 709, 737, 764, 814, 837, 898, 917, 949]);
  let y = d3.scaleLinear().domain([-0.93, 0, 1, 2, 3, 5, 6, 9, 10, 12])
    .range([700, 674, 646, 618, 591, 540, 517, 454, 436, 402]);
  let g = svg.append('g');

  dots(g, eZeroRow.map(v => [v, 0]), x, y, 1.4, '#8c8c8c');
  dots(g, eZeroCol.map(v => [0, v]), x, y, 1.4, '#8c8c8c');
  dots(g, eGray, x, y, 1.3, '#808080');
  dots(g, eBlueCol.map(v => [0, v]), x, y, 1.5, CBLUE);
  dots(g, eBlue, x, y, 1.6, CBLUE);
  dots(g, eGreen, x, y, 1.8, CGREEN);
  labels(g, eLabels, x, y, 10.5, '#666', false);

  styleAxis(g.append('g').attr('transform', 'translate(0,700)')
    .call(d3.axisBottom(x).tickValues(eTicks).tickSize(4).tickSizeOuter(0)), 13);
  styleAxis(g.append('g').attr('transform', 'translate(656,0)')
    .call(d3.axisLeft(y).tickValues(eTicks).tickSize(4).tickSizeOuter(0)), 13);

  text('e', 608, 389, 18, true);
  text('PROBER (FC)', 626, 560, 13.5, false, true);
  text('DNA pulldown (FC)', 818, 752, 13.5);
})();
</script>
</body>
</html>
